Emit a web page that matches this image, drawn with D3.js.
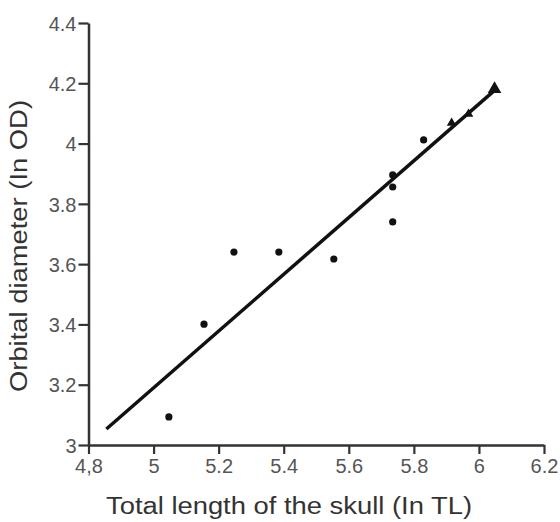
<!DOCTYPE html>
<html>
<head>
<meta charset="utf-8">
<script src="https://cdn.jsdelivr.net/npm/d3@7"></script>
<style>
  body { margin: 0; background: #fff; }
  svg { display: block; font-family: "Liberation Sans", Arial, sans-serif; }
</style>
</head>
<body>
<div id="chart"></div>
<script>
// data
const skullTL = [5.047, 5.155, 5.247, 5.385, 5.554, 5.735, 5.735, 5.735, 5.830, 5.916, 5.968, 6.048];
const orbitOD = [3.093, 3.401, 3.640, 3.640, 3.617, 3.740, 3.856, 3.896, 4.012, 4.068, 4.098, 4.181];
const markShape = ["dot", "dot", "dot", "dot", "dot", "dot", "dot", "dot", "dot", "tri", "tri", "bigtri"];

// fitted line end points
const fitTL = [4.855, 6.056];
const fitOD = [3.053, 4.184];

const xTicks = [4.8, 5, 5.2, 5.4, 5.6, 5.8, 6, 6.2];
const xTickLabels = ["4,8", "5", "5.2", "5.4", "5.6", "5.8", "6", "6.2"];
const yTicks = [3, 3.2, 3.4, 3.6, 3.8, 4, 4.2, 4.4];
const yTickLabels = ["3", "3.2", "3.4", "3.6", "3.8", "4", "4.2", "4.4"];

const width = 560, height = 522;

const svg = d3.select("#chart").append("svg")
    .attr("width", width)
    .attr("height", height);

const x = d3.scaleLinear().domain([4.8, 6.2]).range([88.5, 544]);
const y = d3.scaleLinear().domain([3, 4.4]).range([445, 23]);

// axes
const xAxis = svg.append("g")
    .attr("transform", `translate(0,${y(3)})`)
    .call(d3.axisBottom(x).tickValues(xTicks).tickFormat((d, i) => xTickLabels[i])
        .tickSize(9).tickSizeOuter(0).tickPadding(5));

const yAxis = svg.append("g")
    .attr("transform", `translate(${x(4.8)},0)`)
    .call(d3.axisLeft(y).tickValues(yTicks).tickFormat((d, i) => yTickLabels[i])
        .tickSize(10).tickSizeOuter(0).tickPadding(2));

[xAxis, yAxis].forEach(a => {
    a.select(".domain").attr("stroke", "#333").attr("stroke-width", 2.5);
    a.selectAll(".tick line").attr("stroke", "#333").attr("stroke-width", 2.2);
    a.selectAll(".tick text")
        .attr("fill", "#555")
        .style("font-size", "20px")
        .style("font-family", "'Liberation Sans', Arial, sans-serif");
});
yAxis.selectAll(".tick text").attr("dy", "0.36em");

// regression line
const line = d3.line().x(d => x(d[0])).y(d => y(d[1]));
svg.append("path")
    .datum(fitTL.map((d, i) => [d, fitOD[i]]))
    .attr("d", line)
    .attr("fill", "none")
    .attr("stroke", "#111")
    .attr("stroke-width", 3.5);

// points
const pts = skullTL.map((d, i) => ({ tl: d, od: orbitOD[i], shape: markShape[i] }));

svg.selectAll(".dot")
    .data(pts.filter(d => d.shape === "dot"))
    .enter()
    .append("circle")
    .attr("cx", d => x(d.tl))
    .attr("cy", d => y(d.od))
    .attr("r", 3.6)
    .attr("fill", "#111");

svg.selectAll(".tri")
    .data(pts.filter(d => d.shape !== "dot"))
    .enter()
    .append("path")
    .attr("transform", d => `translate(${x(d.tl)},${y(d.od)})`)
    .attr("d", d => d3.symbol(d3.symbolTriangle, d.shape === "bigtri" ? 80 : 40)())
    .attr("fill", "#111");

// titles
svg.append("text")
    .attr("x", 289)
    .attr("y", 514)
    .attr("text-anchor", "middle")
    .attr("textLength", 366)
    .attr("lengthAdjust", "spacingAndGlyphs")
    .style("font-size", "23px")
    .attr("fill", "#333")
    .text("Total length of the skull (In TL)");

svg.append("text")
    .attr("transform", "translate(27,246) rotate(-90)")
    .attr("text-anchor", "middle")
    .attr("textLength", 292)
    .attr("lengthAdjust", "spacingAndGlyphs")
    .style("font-size", "23px")
    .attr("fill", "#333")
    .text("Orbital diameter (In OD)");
</script>
</body>
</html>
